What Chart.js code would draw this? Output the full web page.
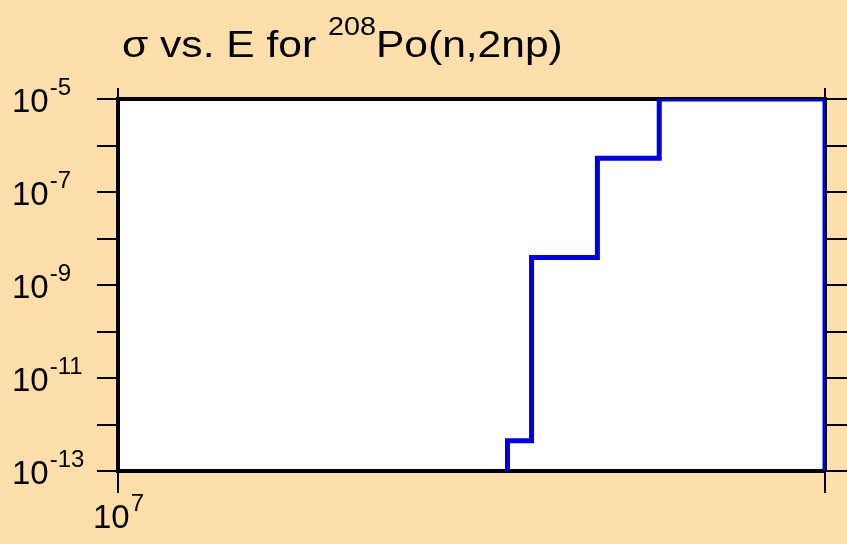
<!DOCTYPE html>
<html>
<head>
<meta charset="utf-8">
<script src="https://cdn.jsdelivr.net/npm/chart.js@4"></script>
<style>
  html, body { margin: 0; padding: 0; background: rgb(254, 222, 170); }
  canvas { display: block; }
</style>
</head>
<body>
<canvas id="xsChart" width="847" height="544"></canvas>
<script>
// cross section data, stepped histogram (E in eV, sigma in barns)
const energies = [1.465e7, 1.465e7, 1.5e7, 1.6e7, 1.7e7, 2e7, 2e7];
const sigmas = [1e-13, 4.5e-13, 3.9e-9, 5.3e-7, 1e-5, 1e-5, 1e-13];

// axis ticks (decades) and which ones get a label
const yTickExps = [-13, -12, -11, -10, -9, -8, -7, -6, -5];
const yLabelExps = [-5, -7, -9, -11, -13];
const xTicks = [1e7, 2e7];
const xLabelExps = [7];

const titleMain = "σ vs. E for ";
const titleSup = "208";
const titleRest = "Po(n,2np)";

const FONT = "'Liberation Sans', Arial, sans-serif";
const BG = "rgb(254, 222, 170)";

const backgroundPlugin = {
    id: "background",
    beforeDraw(chart) {
        const { ctx, chartArea } = chart;
        ctx.save();
        ctx.fillStyle = BG;
        ctx.fillRect(0, 0, chart.width, chart.height);
        ctx.fillStyle = "#ffffff";
        ctx.fillRect(chartArea.left, chartArea.top, chartArea.right - chartArea.left, chartArea.bottom - chartArea.top);
        ctx.restore();
    },
};

// draw a power-of-ten label: base "10" and a raised exponent
function drawPower(ctx, x, baseY, exp, align) {
    ctx.font = "33px " + FONT;
    const baseW = ctx.measureText("10").width;
    ctx.font = "24px " + FONT;
    const expW = ctx.measureText(String(exp)).width;
    let left = x;
    if (align === "center") left = x - (baseW + expW) / 2;
    ctx.font = "33px " + FONT;
    ctx.fillText("10", left, baseY);
    ctx.font = "24px " + FONT;
    ctx.fillText(String(exp), left + baseW + 1, baseY - 17);
}

const labelsPlugin = {
    id: "powerLabels",
    afterDraw(chart) {
        const { ctx } = chart;
        const y = chart.scales.y;
        const x = chart.scales.x;
        ctx.save();
        ctx.fillStyle = "#000000";
        ctx.textAlign = "left";
        ctx.textBaseline = "alphabetic";

        yLabelExps.forEach((e) => {
            const py = y.getPixelForValue(Math.pow(10, e));
            drawPower(ctx, 12, py + 13, e, "left");
        });
        xLabelExps.forEach((e) => {
            const px = x.getPixelForValue(Math.pow(10, e));
            drawPower(ctx, px, 528, e, "center");
        });

        // title with superscript mass number
        ctx.save();
        ctx.translate(122, 57);
        ctx.scale(1.15, 1);
        ctx.font = "37px " + FONT;
        ctx.fillText(titleMain, 0, 0);
        let w = ctx.measureText(titleMain).width;
        ctx.font = "25px " + FONT;
        ctx.fillText(titleSup, w, -22);
        w += ctx.measureText(titleSup).width;
        ctx.font = "37px " + FONT;
        ctx.fillText(titleRest, w, 0);
        ctx.restore();

        ctx.restore();
    },
};

function decadeTicks(axis) {
    axis.ticks = yTickExps.map((e) => ({ value: Math.pow(10, e) }));
}

function xTickList(axis) {
    axis.ticks = xTicks.map((v) => ({ value: v }));
}

const axisBase = {
    type: "logarithmic",
    ticks: { display: false },
    border: { display: true, color: "#000000", width: 4 },
};

new Chart(document.getElementById("xsChart"), {
    type: "line",
    data: {
        datasets: [
            {
                data: energies.map((e, i) => ({ x: e, y: sigmas[i] })),
                borderColor: "#0000dd",
                borderWidth: 5,
                pointRadius: 0,
                stepped: "before",
                fill: false,
            },
        ],
    },
    options: {
        responsive: false,
        animation: false,
        devicePixelRatio: 1,
        layout: { padding: 0 },
        plugins: {
            legend: { display: false },
            title: { display: false },
            tooltip: { enabled: false },
        },
        scales: {
            x: {
                ...axisBase,
                position: "bottom",
                min: 1e7,
                max: 2e7,
                afterBuildTicks: xTickList,
                afterFit: (a) => { a.height = 73; },
                grid: { drawOnChartArea: false, color: "#000000", lineWidth: 2, tickLength: 22 },
            },
            x2: {
                ...axisBase,
                position: "top",
                min: 1e7,
                max: 2e7,
                z: 1,
                afterBuildTicks: xTickList,
                afterFit: (a) => { a.height = 99; },
                grid: { drawOnChartArea: false, color: "#000000", lineWidth: 2, tickLength: 11 },
            },
            y: {
                ...axisBase,
                position: "left",
                min: 1e-13,
                max: 1e-5,
                afterBuildTicks: decadeTicks,
                afterFit: (a) => { a.width = 118; },
                grid: { drawOnChartArea: false, color: "#000000", lineWidth: 2, tickLength: 21 },
            },
            y2: {
                ...axisBase,
                position: "right",
                min: 1e-13,
                max: 1e-5,
                afterBuildTicks: decadeTicks,
                afterFit: (a) => { a.width = 22; },
                grid: { drawOnChartArea: false, color: "#000000", lineWidth: 2, tickLength: 22 },
            },
        },
    },
    plugins: [backgroundPlugin, labelsPlugin],
});
</script>
</body>
</html>
